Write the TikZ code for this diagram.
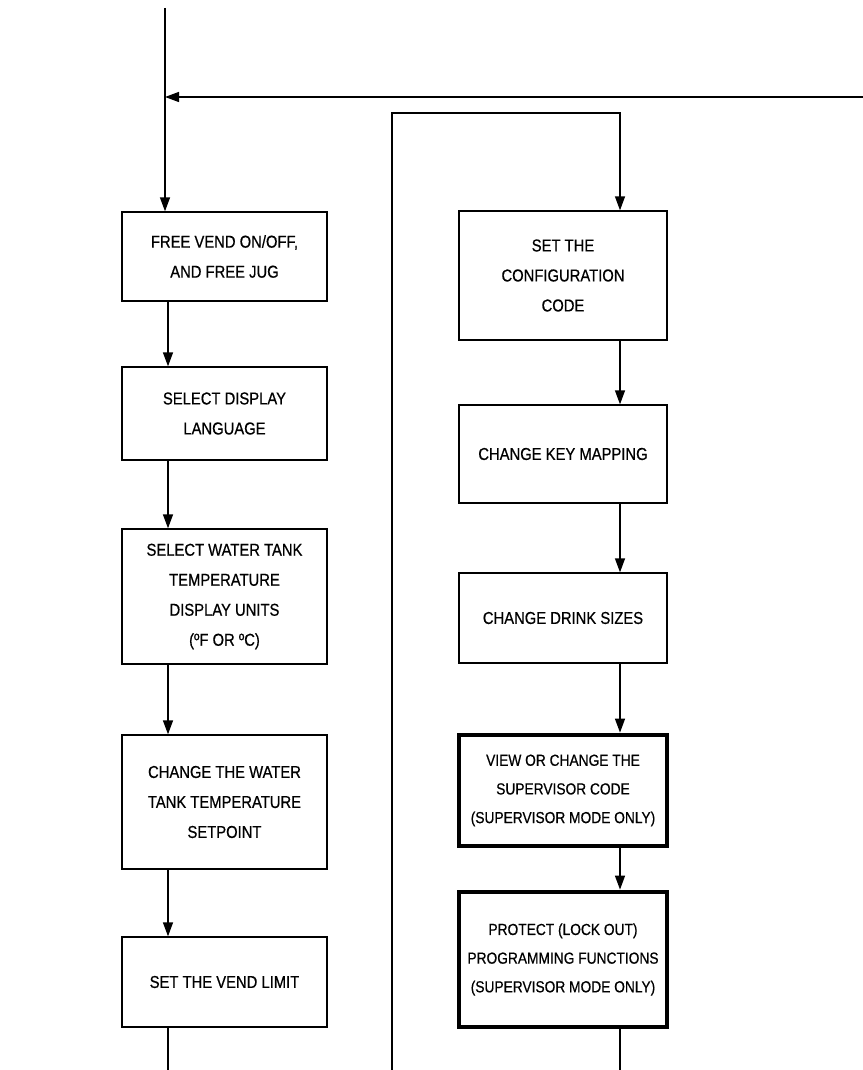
\documentclass[tikz,border=0pt]{standalone}
\usepackage{fontspec}
\setmainfont{Liberation Sans}[FakeStretch=0.86,FakeBold=0.6]
\usetikzlibrary{arrows.meta,positioning,calc}

\begin{document}
\begin{tikzpicture}[x=0.75pt,y=-0.75pt,
  box/.style={draw,line width=1pt,align=center,inner sep=4pt,font=\fontsize{12.9}{22.5}\selectfont},
  thickbox/.style={box,line width=3.6pt,inner xsep=2pt,font=\fontsize{12}{21.5}\selectfont},
  arr/.style={-{Triangle[length=10.5pt,width=7.5pt]},line width=1pt}]
\useasboundingbox (0,0) rectangle (863,1070);

% left column
\node[box,minimum width=153.75pt,minimum height=66.75pt] (FV) at (224.5,256.5) {FREE VEND ON/OFF,\\AND FREE JUG};
\node[box,minimum width=153.75pt,minimum height=69.75pt] (DL) at (224.5,413.5) {SELECT DISPLAY\\LANGUAGE};
\node[box,minimum width=153.75pt,minimum height=101.25pt] (WU) at (224.5,596.5) {SELECT WATER TANK\\TEMPERATURE\\DISPLAY UNITS\\(ºF OR ºC)};
\node[box,minimum width=153.75pt,minimum height=100.5pt] (WS) at (224.5,802) {CHANGE THE WATER\\TANK TEMPERATURE\\SETPOINT};
\node[box,minimum width=153.75pt,minimum height=67.5pt] (VL) at (224.5,982) {SET THE VEND LIMIT};

% right column
\node[box,minimum width=156pt,minimum height=96.75pt] (CC) at (563,275.5) {SET THE\\CONFIGURATION\\CODE};
\node[box,minimum width=156pt,minimum height=73.5pt] (KM) at (563,454) {CHANGE KEY MAPPING};
\node[box,minimum width=156pt,minimum height=67.5pt] (DS) at (563,618) {CHANGE DRINK SIZES};
\node[thickbox,minimum width=156pt,minimum height=83.25pt] (SC) at (563,790.5) {VIEW OR CHANGE THE\\SUPERVISOR CODE\\(SUPERVISOR MODE ONLY)};
\node[thickbox,minimum width=156pt,minimum height=101.25pt] (PF) at (563,959.5) {PROTECT (LOCK OUT)\\PROGRAMMING FUNCTIONS\\(SUPERVISOR MODE ONLY)};

\coordinate (top) at (165,8);
\coordinate (feed) at (863,97);
\coordinate (spineL) at (168,0);
\coordinate (spineR) at (620,0);
\coordinate (endL) at (168,1070);
\coordinate (endR) at (620,1070);
\coordinate (loopB) at (392,1070);
\coordinate (loopT) at (392,113);

\draw[arr] (top) -- (top |- FV.north);
\draw[arr] (feed) -- (feed -| top);
\draw[arr] (FV.south -| spineL) -- (DL.north -| spineL);
\draw[arr] (DL.south -| spineL) -- (WU.north -| spineL);
\draw[arr] (WU.south -| spineL) -- (WS.north -| spineL);
\draw[arr] (WS.south -| spineL) -- (VL.north -| spineL);
\draw[line width=1pt] (VL.south -| spineL) -- (endL);

\draw[arr] (loopB) -- (loopT) -| (CC.north -| spineR);
\draw[arr] (CC.south -| spineR) -- (KM.north -| spineR);
\draw[arr] (KM.south -| spineR) -- (DS.north -| spineR);
\draw[arr] (DS.south -| spineR) -- (SC.north -| spineR);
\draw[arr] (SC.south -| spineR) -- (PF.north -| spineR);
\draw[line width=1pt] (PF.south -| spineR) -- (endR);
\end{tikzpicture}
\end{document}
